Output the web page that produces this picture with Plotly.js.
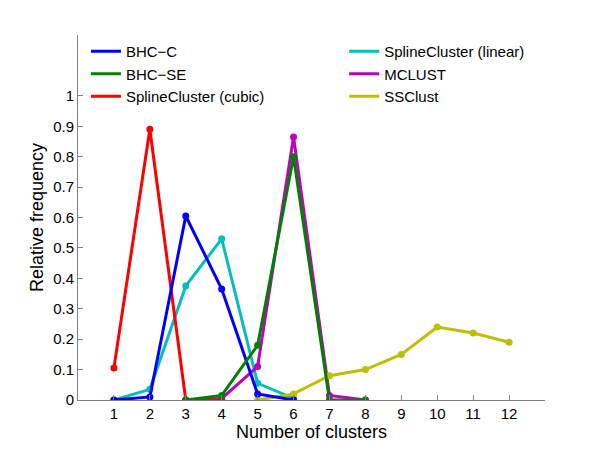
<!DOCTYPE html>
<html>
<head>
<meta charset="utf-8">
<script src="https://cdn.plot.ly/plotly-3.0.1.min.js"></script>
<style>
  html, body { margin: 0; padding: 0; background: #fff; }
  #chart { width: 600px; height: 451px; }
</style>
</head>
<body>
<div id="chart"></div>
<script>
// Values
const bhcCX = [1, 2, 3, 4, 5, 6];
const bhcCY = [0, 0.01, 0.605, 0.365, 0.02, 0];

const bhcSEX = [3, 4, 5, 6, 7, 8];
const bhcSEY = [0, 0.015, 0.18, 0.80, 0, 0];

const cubicX = [1, 2, 3, 4];
const cubicY = [0.105, 0.89, 0, 0];

const linearX = [1, 2, 3, 4, 5, 6];
const linearY = [0, 0.035, 0.375, 0.53, 0.055, 0.005];

const mclustX = [3, 4, 5, 6, 7, 8];
const mclustY = [0, 0.005, 0.11, 0.865, 0.015, 0];

const ssclustX = [5, 6, 7, 8, 9, 10, 11, 12];
const ssclustY = [0, 0.02, 0.08, 0.10, 0.15, 0.24, 0.22, 0.19];

const xTicks = [1, 2, 3, 4, 5, 6, 7, 8, 9, 10, 11, 12];
const yTicks = [0, 0.1, 0.2, 0.3, 0.4, 0.5, 0.6, 0.7, 0.8, 0.9, 1];

const colors = {
    bhcC: '#0000ff',
    bhcSE: '#008000',
    cubic: '#ff0000',
    linear: '#00bfbf',
    mclust: '#bf00bf',
    ssclust: '#bfbf00'
};

function series(x, y, color) {
    return {
        x: x, y: y,
        type: 'scatter',
        mode: 'lines+markers',
        line: { color: color, width: 3 },
        marker: { color: color, size: 7 },
        showlegend: false,
        hoverinfo: 'skip'
    };
}

// legend-only entries (line swatch, no marker)
function key(name, color, legend) {
    return {
        x: [null], y: [null],
        type: 'scatter',
        mode: 'lines',
        name: name,
        line: { color: color, width: 3 },
        legend: legend
    };
}

const traces = [
    series(linearX, linearY, colors.linear),
    series(mclustX, mclustY, colors.mclust),
    series(ssclustX, ssclustY, colors.ssclust),
    series(cubicX, cubicY, colors.cubic),
    series(bhcCX, bhcCY, colors.bhcC),
    series(bhcSEX, bhcSEY, colors.bhcSE),
    key('BHC\u2212C', colors.bhcC, 'legend'),
    key('BHC\u2212SE', colors.bhcSE, 'legend'),
    key('SplineCluster (cubic)', colors.cubic, 'legend'),
    key('SplineCluster (linear)', colors.linear, 'legend2'),
    key('MCLUST', colors.mclust, 'legend2'),
    key('SSClust', colors.ssclust, 'legend2')
];

const legendStyle = {
    bgcolor: 'rgba(0,0,0,0)',
    borderwidth: 0,
    font: { family: 'Liberation Sans, Arial, sans-serif', size: 15, color: '#000' },
    tracegroupgap: 0,
    itemwidth: 30,
    xanchor: 'left',
    yanchor: 'top'
};

const layout = {
    width: 600,
    height: 451,
    margin: { l: 78, r: 55, t: 35, b: 51 },
    paper_bgcolor: '#fff',
    plot_bgcolor: '#fff',
    font: { family: 'Liberation Sans, Arial, sans-serif', size: 15, color: '#000' },
    xaxis: {
        range: [0, 13],
        tickvals: xTicks,
        ticktext: xTicks.map(String),
        ticks: 'inside',
        ticklen: 5,
        tickcolor: '#808080',
        showline: true,
        linecolor: '#808080',
        linewidth: 1,
        showgrid: false,
        zeroline: false,
        tickfont: { size: 15 },
        title: { text: 'Number of clusters', font: { size: 18 }, standoff: 2 }
    },
    yaxis: {
        range: [0, 1.2],
        tickvals: yTicks,
        ticktext: yTicks.map(String),
        ticks: 'inside',
        ticklen: 5,
        tickcolor: '#808080',
        showline: true,
        linecolor: '#808080',
        linewidth: 1,
        showgrid: false,
        zeroline: false,
        tickfont: { size: 15 },
        title: { text: 'Relative frequency', font: { size: 18 }, standoff: 4 }
    },
    legend: Object.assign({}, legendStyle, { x: 0.017, y: 1.0 }),
    legend2: Object.assign({}, legendStyle, { x: 0.57, y: 1.0 })
};

Plotly.newPlot('chart', traces, layout, { displayModeBar: false, staticPlot: true });
</script>
</body>
</html>
